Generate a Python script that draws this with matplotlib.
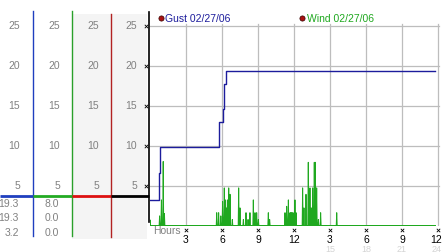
import matplotlib
matplotlib.use("Agg")
import matplotlib.pyplot as plt
import matplotlib.transforms as mtransforms
import numpy as np

plt.rcParams['font.family'] = ['Liberation Sans', 'DejaVu Sans']

# gust (step line), hours from start of 02/27/06
gust_hours = [0, 0.78, 0.85, 5.78, 6.06, 6.19, 6.33, 23.75]
gust_vals = [3.2, 6.6, 9.8, 12.9, 14.6, 17.7, 19.3, 19.3]

# wind spikes (hour, speed); zero elsewhere
wind_spike_hours = [0.0, 0.8, 0.95, 1.1, 1.2,
                    5.56, 5.72, 5.9, 6.05, 6.19, 6.3, 6.39, 6.47, 6.56, 6.67, 6.86,
                    7.39, 7.5, 7.78, 8.0, 8.17, 8.33, 8.61, 8.75, 8.89, 9.03,
                    9.86, 9.97, 11.25, 11.39, 11.53, 11.67, 11.75, 11.83, 11.92,
                    12.08, 12.17, 12.72, 12.83, 13.0, 13.19, 13.33, 13.44, 13.56,
                    13.69, 13.78, 13.89, 14.03, 14.22, 15.56]
wind_spike_vals = [0.7, 1.2, 3.2, 8.0, 1.5,
                   1.6, 1.6, 1.2, 3.0, 4.7, 3.2, 2.2, 3.2, 4.7, 3.9, 0.75,
                   4.7, 2.2, 0.75, 1.6, 0.75, 1.6, 3.2, 1.6, 1.6, 0.75,
                   1.6, 0.75, 1.6, 2.4, 3.2, 1.6, 1.6, 1.6, 1.6,
                   3.2, 1.6, 4.7, 2.2, 3.9, 7.9, 4.7, 2.2, 4.7,
                   7.9, 7.9, 4.7, 0.75, 1.6, 1.6]
wind_end = 23.75

y_ticks = [5, 10, 15, 20, 25]
x_ticks = [3, 6, 9, 12, 15, 18, 21, 24]
x_labels = ['3', '6', '9', '12', '3', '6', '9', '12']
x_labels2 = ['', '', '', '', '15', '18', '21', '24']
gust_stats = ['19.3', '19.3', '3.2']   # max, current, min
wind_stats = ['8.0', '0.0', '0.0']
marker_level = 3.7

gust_color = '#1c1c9c'
wind_color = '#1fa81f'
grey_txt = '#808080'

W, H = 442, 253
fig = plt.figure(figsize=(W / 100, H / 100), dpi=100)

# background / pixel layer for left panels
bg = fig.add_axes([0, 0, 1, 1])
bg.set_xlim(0, W)
bg.set_ylim(H, 0)
bg.axis('off')

# main chart axes: x in hours, y in mph
x0, px_per_hour = 150, 12
y0, px_per_unit = 226.5, 8
top_px = 13
ax = fig.add_axes([x0 / W, (H - y0) / H, (W - x0) / W, (y0 - top_px) / H])
ax.set_xlim(0, (W - x0) / px_per_hour)
ax.set_ylim(0, (y0 - top_px) / px_per_unit)
ax.set_facecolor('none')
for s in ax.spines.values():
    s.set_visible(False)
ax.set_xticks([])
ax.set_yticks([])

# grid
for yv in y_ticks:
    ax.plot([0, 24.1], [yv, yv], color='#bdbdbd', lw=0.9, zorder=1)
for xv in x_ticks:
    ax.plot([xv, xv], [0, 25.25], color='#bdbdbd', lw=0.9, zorder=1)

# grey columns and coloured separators
bg.add_patch(plt.Rectangle((72, 15), 75, 225, color='#f4f4f4', lw=0, zorder=0))
bg.plot([33, 33], [12, 237], color='#1f3fbf', lw=1.0)
bg.plot([72, 72], [12, 237], color='#2aa02a', lw=1.0)
bg.plot([111, 111], [15, 238], color='#b22222', lw=1.0)
bg.plot([149, 149], [13, 223], color='black', lw=1.2)

tr = mtransforms.blended_transform_factory(bg.transData, ax.transData)
for xs, c in [((0, 33), '#1f3fbf'), ((33, 72), '#22aa22'),
              ((72, 111), '#dd1111'), ((111, 149), 'black')]:
    bg.plot(xs, [marker_level, marker_level], color=c, lw=2.0, transform=tr,
            solid_capstyle='butt')

for xr in [20, 60, 99, 137]:
    for yv in y_ticks:
        bg.text(xr, yv, str(yv), transform=tr, ha='right', va='center',
                fontsize=7.5, color=grey_txt)
for i, (g, w) in enumerate(zip(gust_stats, wind_stats)):
    yy = 204 + i * 14.5
    bg.text(19, yy, g, ha='right', va='center', fontsize=7.5, color=grey_txt)
    bg.text(59, yy, w, ha='right', va='center', fontsize=7.5, color=grey_txt)

# y tick marks on main axis
ax.scatter([-0.3] * len(y_ticks), y_ticks, marker='x', s=6, lw=0.6,
           color='black', clip_on=False, zorder=4)
# x tick marks and labels
ax.scatter(x_ticks, [-0.5] * len(x_ticks), marker='x', s=6, lw=0.6,
           color='black', clip_on=False, zorder=4)
for xv, l1, l2 in zip(x_ticks, x_labels, x_labels2):
    xt = min(xv, 23.85)
    ax.text(xt, -1.7, l1, ha='center', va='center', fontsize=7.5, color='black',
            clip_on=False)
    if l2:
        ax.text(xt, -2.9, l2, ha='center', va='center', fontsize=6.5,
                color='#d4d4d4', clip_on=False)
ax.text(0.25, -0.6, 'Hours', ha='left', va='center', fontsize=7.5,
        color=grey_txt, clip_on=False)

# data
ax.plot(gust_hours, gust_vals, drawstyle='steps-post', color=gust_color,
        lw=1.0, zorder=3)

wx, wy = [0.0], [0.0]
for h, v in zip(wind_spike_hours, wind_spike_vals):
    wx += [max(h - 0.04, 0), h, h + 0.04]
    wy += [0, v, 0]
wx.append(wind_end)
wy.append(0)
ax.plot(wx, wy, color=wind_color, lw=0.7, zorder=3)
ax.plot([0, wind_end], [0, 0], color=wind_color, lw=1.4, zorder=3)

# legend
for xl, label, c in [(0.9, 'Gust 02/27/06', gust_color),
                     (12.7, 'Wind 02/27/06', wind_color)]:
    ax.scatter([xl], [25.9], s=14, color='#aa1111', edgecolor='#330000',
               lw=0.5, clip_on=False, zorder=5)
    ax.text(xl + 0.35, 25.9, label, ha='left', va='center', fontsize=7.5,
            color=c, clip_on=False)

fig.savefig('out.png', dpi=100, facecolor='white')
